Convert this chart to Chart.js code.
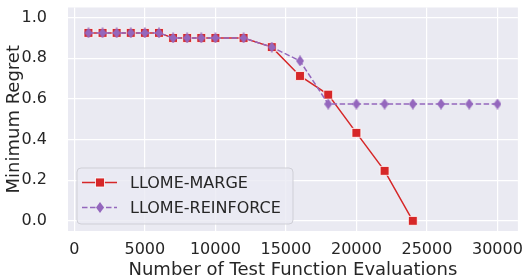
<!DOCTYPE html>
<html>
<head>
<meta charset="utf-8">
<script src="https://cdn.jsdelivr.net/npm/chart.js@4.4.0/dist/chart.umd.min.js"></script>
<style>
  html, body { margin: 0; padding: 0; background: #fff; }
  #wrap { width: 525px; height: 277px; }
</style>
</head>
<body>
<div id="wrap"><canvas id="regretChart" width="525" height="277"></canvas></div>
<script>
// data
var margeEvals = [1000, 2000, 3000, 4000, 5000, 6000, 7000, 8000, 9000, 10000, 12000, 14000, 16000, 18000, 20000, 22000, 24000];
var margeRegret = [0.925, 0.925, 0.925, 0.925, 0.925, 0.925, 0.9, 0.9, 0.9, 0.9, 0.9, 0.855, 0.713, 0.621, 0.433, 0.246, 0.0];
var reinforceEvals = [1000, 2000, 3000, 4000, 5000, 6000, 7000, 8000, 9000, 10000, 12000, 14000, 16000, 18000, 20000, 22000, 24000, 26000, 28000, 30000];
var reinforceRegret = [0.925, 0.925, 0.925, 0.925, 0.925, 0.925, 0.9, 0.9, 0.9, 0.9, 0.9, 0.855, 0.787, 0.575, 0.575, 0.575, 0.575, 0.575, 0.575, 0.575];
var xTicks = [0, 5000, 10000, 15000, 20000, 25000, 30000];
var yTicks = [0.0, 0.2, 0.4, 0.6, 0.8, 1.0];
var seriesNames = ['LLOME-MARGE', 'LLOME-REINFORCE'];

var RED = '#d62728';
var PURPLE = '#9467bd';
var TEXT = '#262626';
var FONT = "'DejaVu Sans', sans-serif";

function toPoints(xs, ys) {
    return xs.map(function(x, i) { return { x: x, y: ys[i] }; });
}

// thin diamond like matplotlib's 'd'
function thinDiamond(w, h, color) {
    var c = document.createElement('canvas');
    c.width = w; c.height = h;
    var g = c.getContext('2d');
    g.fillStyle = color;
    g.beginPath();
    g.moveTo(w / 2, 0);
    g.lineTo(w, h / 2);
    g.lineTo(w / 2, h);
    g.lineTo(0, h / 2);
    g.closePath();
    g.fill();
    return c;
}
var diamond = thinDiamond(8, 11, PURPLE);

var plotBg = {
    id: 'plotBg',
    beforeDraw: function(chart) {
        var a = chart.chartArea, ctx = chart.ctx;
        ctx.save();
        ctx.fillStyle = '#eaeaf2';
        ctx.fillRect(a.left, a.top, a.right - a.left, a.bottom - a.top);
        ctx.restore();
    }
};

// matplotlib-style legend with line + marker samples
var mplLegend = {
    id: 'mplLegend',
    afterDraw: function(chart) {
        var ctx = chart.ctx;
        var bx = 77, by = 168, bw = 216, bh = 56;
        ctx.save();
        ctx.beginPath();
        ctx.roundRect(bx, by, bw, bh, 4);
        ctx.fillStyle = 'rgba(234,234,242,0.8)';
        ctx.fill();
        ctx.strokeStyle = '#cfcfd6';
        ctx.lineWidth = 1;
        ctx.stroke();

        var rows = [182.5, 207.5];
        // marge sample
        ctx.strokeStyle = RED;
        ctx.lineWidth = 1.5;
        ctx.setLineDash([]);
        ctx.beginPath();
        ctx.moveTo(82, rows[0]); ctx.lineTo(117, rows[0]);
        ctx.stroke();
        ctx.fillStyle = RED;
        ctx.fillRect(95.5, rows[0] - 4.5, 9, 9);
        ctx.strokeStyle = '#fff';
        ctx.lineWidth = 0.8;
        ctx.strokeRect(95.5, rows[0] - 4.5, 9, 9);
        // reinforce sample
        ctx.strokeStyle = PURPLE;
        ctx.lineWidth = 1.5;
        ctx.setLineDash([5.5, 2.5]);
        ctx.beginPath();
        ctx.moveTo(82, rows[1]); ctx.lineTo(117, rows[1]);
        ctx.stroke();
        ctx.setLineDash([]);
        ctx.drawImage(diamond, 96, rows[1] - 5.5);

        ctx.fillStyle = TEXT;
        ctx.font = '16px ' + FONT;
        ctx.textBaseline = 'middle';
        ctx.textAlign = 'left';
        ctx.fillText(seriesNames[0], 130, rows[0] + 1);
        ctx.fillText(seriesNames[1], 130, rows[1] + 1);
        ctx.restore();
    }
};

var ctx = document.getElementById('regretChart').getContext('2d');
var regretChart = new Chart(ctx, {
    type: 'line',
    data: {
        datasets: [{
            label: seriesNames[0],
            data: toPoints(margeEvals, margeRegret),
            borderColor: RED,
            backgroundColor: RED,
            borderWidth: 1.5,
            pointStyle: 'rect',
            pointRadius: 6.3,
            pointBackgroundColor: RED,
            pointBorderColor: '#ffffff',
            pointBorderWidth: 0.8,
            tension: 0,
            order: 2
        }, {
            label: seriesNames[1],
            data: toPoints(reinforceEvals, reinforceRegret),
            borderColor: PURPLE,
            backgroundColor: PURPLE,
            borderWidth: 1.5,
            borderDash: [5.5, 2.5],
            pointStyle: diamond,
            pointRadius: 5,
            tension: 0,
            order: 1
        }]
    },
    options: {
        responsive: false,
        animation: false,
        layout: {
            padding: { top: 7.5, right: 7, left: 0, bottom: 0 }
        },
        plugins: {
            legend: { display: false },
            tooltip: { enabled: false }
        },
        scales: {
            x: {
                type: 'linear',
                min: -450,
                max: 31450,
                afterBuildTicks: function(scale) {
                    scale.ticks = xTicks.map(function(v) { return { value: v }; });
                },
                afterFit: function(scale) { scale.height = 46; },
                grid: { color: '#ffffff', lineWidth: 1.2, drawTicks: true, tickLength: 9, tickColor: 'rgba(0,0,0,0)' },
                border: { display: false },
                ticks: {
                    autoSkip: false,
                    maxRotation: 0,
                    padding: 0,
                    color: TEXT,
                    font: { family: FONT, size: 16 },
                    callback: function(v) { return String(v); }
                },
                title: {
                    display: true,
                    text: 'Number of Test Function Evaluations',
                    color: TEXT,
                    font: { family: FONT, size: 18, lineHeight: 0.7 },
                    padding: { top: 0, bottom: 0 }
                }
            },
            y: {
                min: -0.05,
                max: 1.05,
                afterBuildTicks: function(scale) {
                    scale.ticks = yTicks.map(function(v) { return { value: v }; });
                },
                afterFit: function(scale) { scale.width = 68; },
                grid: { color: '#ffffff', lineWidth: 1.2, drawTicks: true, tickLength: 21, tickColor: 'rgba(0,0,0,0)' },
                border: { display: false },
                ticks: {
                    padding: 0,
                    color: TEXT,
                    font: { family: FONT, size: 16, lineHeight: 0.9 },
                    callback: function(v) { return v.toFixed(1); }
                },
                title: {
                    display: true,
                    text: 'Minimum Regret',
                    color: TEXT,
                    font: { family: FONT, size: 18, lineHeight: 1.2 },
                    padding: { top: 4, bottom: 0 }
                }
            }
        }
    },
    plugins: [plotBg, mplLegend]
});
</script>
</body>
</html>
